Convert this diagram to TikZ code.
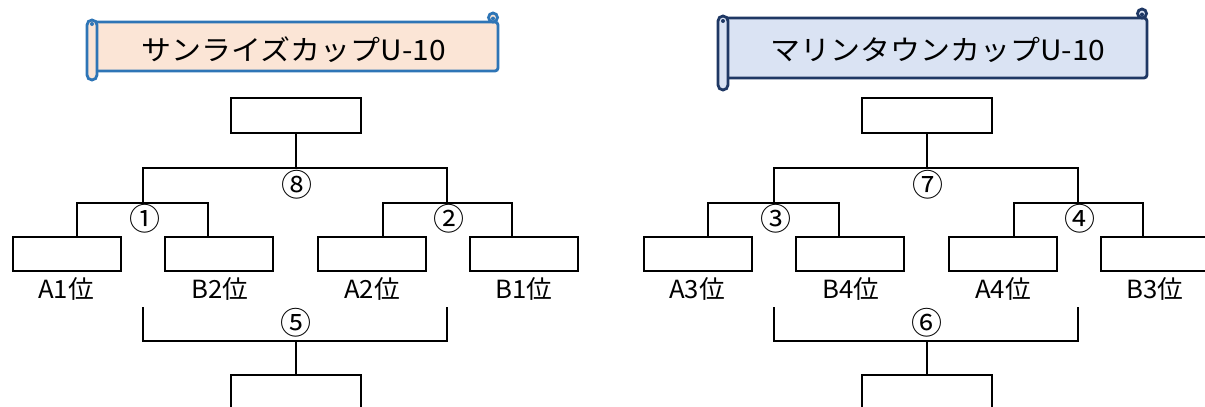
\documentclass[tikz,border=0pt]{standalone}
\usepackage{fontspec}
\newfontfamily\jp{Noto Sans CJK JP}
\definecolor{peach}{HTML}{FBE5D6}
\definecolor{peachline}{HTML}{2E75B6}
\definecolor{lblue}{HTML}{DAE3F3}
\definecolor{navy}{HTML}{1F3864}
\begin{document}
\begin{tikzpicture}[x=1pt,y=-1pt,
  box/.style={draw, line width=2pt, minimum width=108pt, minimum height=34pt, inner sep=0pt, outer sep=0pt, fill=white},
  finalbox/.style={box, minimum width=130pt, minimum height=35pt},
  link/.style={line width=2pt},
  lbl/.style={font=\jp\fontsize{25}{25}\selectfont, inner sep=0pt, xscale=1.03},
  num/.style={font=\jp\fontsize{31}{31}\selectfont, inner sep=0pt},
  title/.style={font=\jp\fontsize{28}{28}\selectfont, inner sep=0pt, xscale=1.07},
  bannerA/.style={draw=peachline, fill=peach, line width=2.8pt},
  bannerB/.style={draw=navy, fill=lblue, line width=2.8pt}]
\useasboundingbox (0,0) rectangle (1205,407);
\clip (0,0) rectangle (1205,407);
\fill[white] (0,0) rectangle (1205,407);

% ---------- left banner ----------
\draw[bannerA, rounded corners=3pt] (92,22) rectangle (498,71);
\draw[bannerA] (493,17.5) circle (4.5pt);
\fill[peachline] (493,18.5) circle (2pt);
\draw[bannerA, rounded corners=5pt] (87,20) rectangle (97,80);
\fill[peachline] (92,24) circle (2pt);
\node[title] (Ltitle) at (294,50) {サンライズカップU-10};

% ---------- right banner ----------
\draw[bannerB, rounded corners=3pt] (725,18) rectangle (1147,78);
\draw[bannerB] (1142,13.5) circle (4.5pt);
\fill[navy] (1142,14.5) circle (2pt);
\draw[bannerB, rounded corners=5pt] (718,16) rectangle (728,90);
\fill[navy] (723,21) circle (2pt);
\node[title] (Rtitle) at (938,50) {マリンタウンカップU-10};

% ---------- left bracket ----------
\node[finalbox] (Ltop) at (296,115.5) {};
\node[box] (L1) at (67,254) {};
\node[box] (L2) at (219,254) {};
\node[box] (L3) at (372,254) {};
\node[box] (L4) at (524,254) {};
\node[finalbox] (Lbot) at (296,392.5) {};
\coordinate (Lj8) at (296,168);
\coordinate (La) at (143,203);
\coordinate (Lb) at (447,203);
\coordinate (Lc1) at (143,307);
\coordinate (Lc2) at (447,307);
\coordinate (Lj5) at (296,341);
\draw[link] (Ltop.south) -- (Lj8);
\draw[link] (La) |- (Lj8) -| (Lb);
\draw[link] ([xshift=10pt]L1.north) |- (La) -| ([xshift=-11pt]L2.north);
\draw[link] ([xshift=11pt]L3.north) |- (Lb) -| ([xshift=-12pt]L4.north);
\draw[link] (Lc1) |- (Lj5) -| (Lc2);
\draw[link] (Lj5) -- (Lbot.north);
\node[lbl] (LA1) at (66,289) {A1位};
\node[lbl] (LB2) at (220,289) {B2位};
\node[lbl] (LA2) at (372,289) {A2位};
\node[lbl] (LB1) at (524,289) {B1位};
\node[num] (Ln8) at (297,185) {⑧};
\node[num] (Ln1) at (145,219) {①};
\node[num] (Ln2) at (449,219) {②};
\node[num] (Ln5) at (296,323) {⑤};

% ---------- right bracket ----------
\node[finalbox] (Rtop) at (927,115.5) {};
\node[box] (R1) at (698,254) {};
\node[box] (R2) at (850,254) {};
\node[box] (R3) at (1003,254) {};
\node[box] (R4) at (1155,254) {};
\node[finalbox] (Rbot) at (927,392.5) {};
\coordinate (Rj7) at (927,168);
\coordinate (Ra) at (774,203);
\coordinate (Rb) at (1078,203);
\coordinate (Rc1) at (774,307);
\coordinate (Rc2) at (1078,307);
\coordinate (Rj6) at (927,341);
\draw[link] (Rtop.south) -- (Rj7);
\draw[link] (Ra) |- (Rj7) -| (Rb);
\draw[link] ([xshift=10pt]R1.north) |- (Ra) -| ([xshift=-11pt]R2.north);
\draw[link] ([xshift=11pt]R3.north) |- (Rb) -| ([xshift=-12pt]R4.north);
\draw[link] (Rc1) |- (Rj6) -| (Rc2);
\draw[link] (Rj6) -- (Rbot.north);
\node[lbl] (RA3) at (697,289) {A3位};
\node[lbl] (RB4) at (851,289) {B4位};
\node[lbl] (RA4) at (1003,289) {A4位};
\node[lbl] (RB3) at (1155,289) {B3位};
\node[num] (Rn7) at (928,185) {⑦};
\node[num] (Rn3) at (776,219) {③};
\node[num] (Rn4) at (1080,219) {④};
\node[num] (Rn6) at (927,323) {⑥};
\end{tikzpicture}
\end{document}
